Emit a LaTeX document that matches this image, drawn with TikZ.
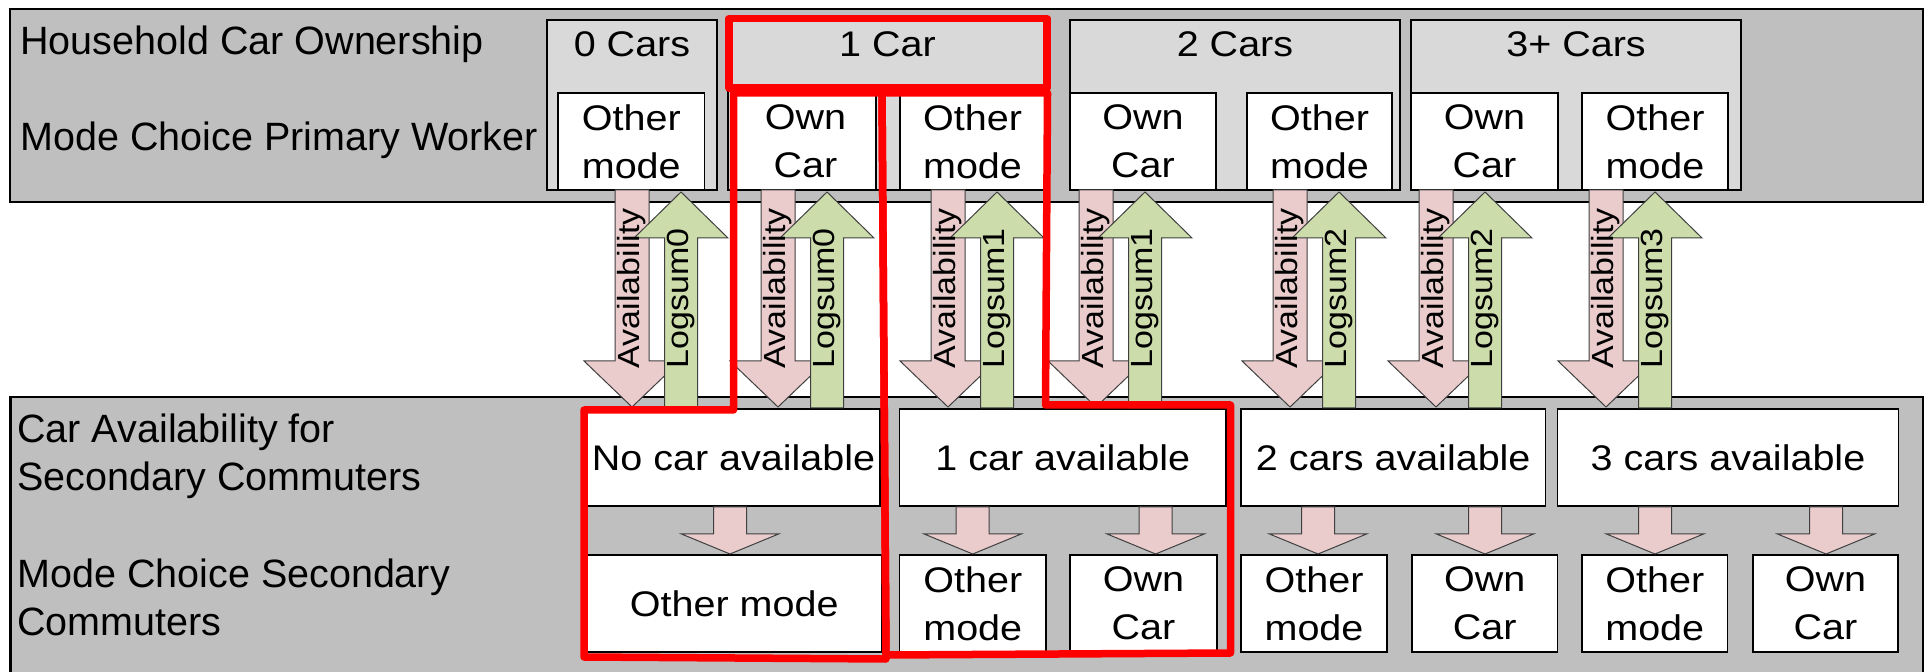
\documentclass[tikz,border=0pt]{standalone}
\usepackage{fontspec}
\setmainfont{Liberation Sans}
\newfontfamily\bxf{Liberation Sans}[FakeStretch=1.11]
\usetikzlibrary{fit}
\definecolor{panelgray}{RGB}{191,191,191}
\definecolor{lightgraybox}{RGB}{217,217,217}
\definecolor{pinkfill}{RGB}{235,204,204}
\definecolor{greenfill}{RGB}{204,220,170}
\definecolor{redline}{RGB}{255,0,0}
\newcommand\pairarrow[3]{%
 \filldraw[parrow] ({#1-17},190) -- ({#1+17},190) -- ({#1+17},361) -- ({#1+48},361) -- (#1,407) -- ({#1-48},361) -- ({#1-17},361) -- cycle;
 \filldraw[garrow] ({#1+49-16.5},408) -- ({#1+49+16.5},408) -- ({#1+49+16.5},238) -- ({#1+49+47},238) -- ({#1+49},192) -- ({#1+49-47},238) -- ({#1+49-16.5},238) -- cycle;
 \node[rtxt] (av#3) at (#1,368.5) {Availability};
 \node[rtxt] (ls#3) at ({#1+49},368.5) {#2};
}
\newcommand\smalldownarrow[1]{%
 \filldraw[parrow] ({#1-16.5},507) -- ({#1+16.5},507) -- ({#1+16.5},534) -- ({#1+48.5},534) -- (#1,554) -- ({#1-48.5},534) -- ({#1-16.5},534) -- cycle;
}
\newcommand\boxtext[2]{\node[btxt,align=center] (#1-txt) at (#1.center) {#2};}
\begin{document}
\begin{tikzpicture}[x=0.5pt,y=-0.5pt,
 panel/.style={fill=panelgray,draw=black,line width=1.2pt},
 gbox/.style={fill=lightgraybox,draw=black,line width=0.9pt,inner sep=0pt},
 wbox/.style={fill=white,draw=black,line width=0.9pt,inner sep=0pt},
 lbl/.style={inner sep=0pt,align=left,font=\fontsize{19.75}{24}\selectfont},
 btxt/.style={inner sep=0pt,font=\bxf\fontsize{17.8}{24}\selectfont},
 rtxt/.style={inner sep=0pt,rotate=90,anchor=west,font=\bxf\fontsize{15.3}{18}\selectfont},
 parrow/.style={fill=pinkfill,draw=black!75,line width=0.5pt},
 garrow/.style={fill=greenfill,draw=black!75,line width=0.5pt},
 redbox/.style={draw=redline,line width=3.75pt,line join=round}]
\useasboundingbox (0,0) rectangle (1930,672);
\clip (0,0) rectangle (1930,672);
% panels
\node[panel,inner sep=0pt,fit={(10,9) (1923,202)}] (toppanel) {};
\node[panel,inner sep=0pt,fit={(10.5,397) (1923,720)}] (botpanel) {};
% panel labels
\node[lbl,anchor=base west] (hco) at (20,55) {Household Car Ownership};
\node[lbl,anchor=base west] (mcp) at (20,151) {Mode Choice Primary Worker};
\node[lbl,anchor=north west] (cas) at (17,413) {Car Availability for\\Secondary Commuters};
\node[lbl,anchor=north west] (mcs) at (17,558) {Mode Choice Secondary\\Commuters};
% car ownership boxes
\node[gbox,fit={(547,20) (717,190)}] (g0) {};
\node[gbox,fit={(728,20) (1047,190)}] (g1) {};
\node[gbox,fit={(1070,20) (1400,190)}] (g2) {};
\node[gbox,fit={(1411,20) (1741,190)}] (g3) {};
\node[btxt,anchor=base] (g0t) at (632,57) {0 Cars};
\node[btxt,anchor=base] (g1t) at (887.5,57) {1 Car};
\node[btxt,anchor=base] (g2t) at (1235,57) {2 Cars};
\node[btxt,anchor=base] (g3t) at (1576,57) {3+ Cars};
% primary worker mode boxes
\node[wbox,fit={(558,93) (704.5,190)}] (t0o) {};
\node[wbox,fit={(735,93) (876,190)}] (t1c) {};
\node[wbox,fit={(900,93) (1045,190)}] (t1o) {};
\node[wbox,fit={(1070,93) (1216,190)}] (t2c) {};
\node[wbox,fit={(1247,93) (1392,190)}] (t2o) {};
\node[wbox,fit={(1411,93) (1558,190)}] (t3c) {};
\node[wbox,fit={(1582,93) (1728,190)}] (t3o) {};
\boxtext{t0o}{Other\\mode}
\boxtext{t1c}{Own\\Car}
\boxtext{t1o}{Other\\mode}
\boxtext{t2c}{Own\\Car}
\boxtext{t2o}{Other\\mode}
\boxtext{t3c}{Own\\Car}
\boxtext{t3o}{Other\\mode}
% availability boxes
\node[wbox,fit={(587,409) (880,506)}] (a0) {};
\node[wbox,fit={(899.5,409) (1226,506)}] (a1) {};
\node[wbox,fit={(1241,409) (1545.5,506)}] (a2) {};
\node[wbox,fit={(1557.5,409) (1898.5,506)}] (a3) {};
\boxtext{a0}{No car available}
\boxtext{a1}{1 car available}
\boxtext{a2}{2 cars available}
\boxtext{a3}{3 cars available}
% secondary mode boxes
\node[wbox,fit={(587,555) (881.5,652)}] (m0) {};
\node[wbox,fit={(899.5,555) (1046,652)}] (m1o) {};
\node[wbox,fit={(1070,555) (1217,652)}] (m1c) {};
\node[wbox,fit={(1241,555) (1387,652)}] (m2o) {};
\node[wbox,fit={(1412,555) (1557.5,652)}] (m2c) {};
\node[wbox,fit={(1582,555) (1727.5,652)}] (m3o) {};
\node[wbox,fit={(1753,555) (1898,652)}] (m3c) {};
\boxtext{m0}{Other mode}
\boxtext{m1o}{Other\\mode}
\boxtext{m1c}{Own\\Car}
\boxtext{m2o}{Other\\mode}
\boxtext{m2c}{Own\\Car}
\boxtext{m3o}{Other\\mode}
\boxtext{m3c}{Own\\Car}
% availability / logsum arrows
\pairarrow{632}{Logsum0}{1}
\pairarrow{778}{Logsum0}{2}
\pairarrow{948}{Logsum1}{3}
\pairarrow{1096}{Logsum1}{4}
\pairarrow{1290}{Logsum2}{5}
\pairarrow{1436}{Logsum2}{6}
\pairarrow{1606}{Logsum3}{7}
% small arrows
\smalldownarrow{730}
\smalldownarrow{972.7}
\smalldownarrow{1155.6}
\smalldownarrow{1318}
\smalldownarrow{1485}
\smalldownarrow{1655}
\smalldownarrow{1826}
% red highlights
\draw[redbox] (729,18.5) rectangle (1047,88);
\draw[redbox] (733.5,93) -- (733.5,410) -- (584,410) -- (584,657) -- (886,659) -- (882,93) -- cycle;
\draw[redbox] (882,93) -- (1047.5,93) -- (1045.5,405) -- (1230.5,405) -- (1230.5,653) -- (886,655) -- cycle;
\end{tikzpicture}
\end{document}
